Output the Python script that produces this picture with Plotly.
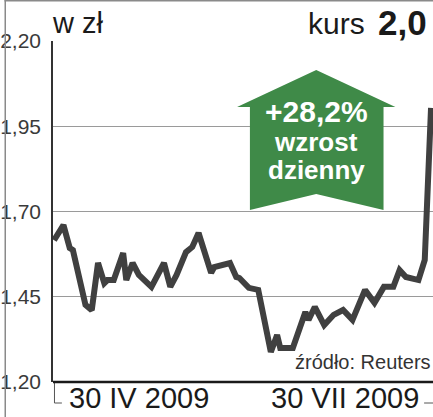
import plotly.graph_objects as go

# ── Data ──────────────────────────────────────────────────────────────────────
dates = [
    "2009-04-30", "2009-05-03", "2009-05-05", "2009-05-06", "2009-05-10",
    "2009-05-12", "2009-05-14", "2009-05-16", "2009-05-17", "2009-05-19",
    "2009-05-22", "2009-05-23", "2009-05-25", "2009-05-27", "2009-05-31",
    "2009-06-04", "2009-06-06", "2009-06-08", "2009-06-11", "2009-06-13",
    "2009-06-15", "2009-06-19", "2009-06-20", "2009-06-25", "2009-06-27",
    "2009-06-28", "2009-07-01", "2009-07-04", "2009-07-08", "2009-07-10",
    "2009-07-11", "2009-07-15", "2009-07-19", "2009-07-20", "2009-07-22",
    "2009-07-25", "2009-07-28", "2009-07-31", "2009-08-03", "2009-08-07",
    "2009-08-10", "2009-08-13", "2009-08-16", "2009-08-18", "2009-08-20",
    "2009-08-24", "2009-08-26", "2009-08-28",
]
kurs = [
    1.616, 1.660, 1.593, 1.587, 1.426,
    1.411, 1.549, 1.490, 1.499, 1.499,
    1.578, 1.499, 1.549, 1.514, 1.479,
    1.549, 1.479, 1.514, 1.581, 1.596,
    1.637, 1.520, 1.537, 1.549, 1.508,
    1.505, 1.476, 1.470, 1.288, 1.338,
    1.300, 1.300, 1.405, 1.382, 1.420,
    1.367, 1.397, 1.411, 1.382, 1.470,
    1.432, 1.479, 1.479, 1.528, 1.508,
    1.499, 1.558, 2.004,
]
y_ticks = [1.20, 1.45, 1.70, 1.95, 2.20]
y_labels = ["1,20", "1,45", "1,70", "1,95", "2,20"]

# ── Geometry helpers (pixel -> paper) ─────────────────────────────────────────
W, H = 433, 417
L, R, T, B = 49, 0, 41, 35
PW, PH = W - L - R, H - T - B


def px(x):
    return (x - L) / PW


def py(y):
    return (H - B - y) / PH


FONT = "Liberation Sans, Arial, sans-serif"
GREEN = "#3f8a48"

fig = go.Figure()
fig.add_trace(go.Scatter(
    x=dates, y=kurs, mode="lines",
    line=dict(color="#404040", width=6, shape="linear"),
    hoverinfo="skip", showlegend=False, cliponaxis=False,
))

# arrow callout
arrow = [(315, 70), (395, 107), (383, 107), (383, 210), (315, 194),
         (248, 210), (248, 107), (235, 107)]
path = "M " + " L ".join(f"{px(a):.4f},{py(b):.4f}" for a, b in arrow) + " Z"
shapes = [
    dict(type="path", xref="paper", yref="paper", path=path,
         fillcolor=GREEN, line=dict(width=0), layer="above"),
    # outer frame left/top
    dict(type="line", xref="paper", yref="paper", x0=px(0.75), x1=px(0.75),
         y0=py(0), y1=py(H), line=dict(color="#8a8a8a", width=1.5)),
    dict(type="line", xref="paper", yref="paper", x0=px(0), x1=px(W),
         y0=py(0.75), y1=py(0.75), line=dict(color="#8a8a8a", width=1.5)),
    # period brackets under axis
    dict(type="path", xref="paper", yref="paper",
         path=f"M {px(50.5):.4f},{py(383):.4f} L {px(50.5):.4f},{py(403):.4f} "
              f"L {px(58):.4f},{py(403):.4f}",
         line=dict(color="#555", width=1)),
    dict(type="line", xref="paper", yref="paper", x0=px(424), x1=px(433),
         y0=py(403), y1=py(403), line=dict(color="#555", width=1)),
    # baseline
    dict(type="line", xref="paper", yref="paper", x0=0, x1=1, y0=0, y1=0,
         line=dict(color="#1a1a1a", width=2.5), layer="above"),
]

annotations = [
    dict(text="w zł", x=px(46), y=py(23), xanchor="left", yanchor="middle",
         font=dict(family=FONT, size=29, color="#1a1a1a")),
    dict(text="kurs", x=px(366), y=py(23), xanchor="right",
         yanchor="middle", font=dict(family=FONT, size=30, color="#1a1a1a")),
    dict(text="<b>2,0</b>", x=px(429), y=py(22), xanchor="right",
         yanchor="middle", font=dict(family=FONT, size=35, color="#1a1a1a")),
    dict(text="<b>+28,2%</b>", x=px(315), y=py(111), xanchor="center",
         yanchor="middle", font=dict(family=FONT, size=30, color="white")),
    dict(text="<b>wzrost</b>", x=px(315), y=py(142), xanchor="center",
         yanchor="middle", font=dict(family=FONT, size=26, color="white")),
    dict(text="<b>dzienny</b>", x=px(315), y=py(170), xanchor="center",
         yanchor="middle", font=dict(family=FONT, size=26, color="white")),
    dict(text="źródło: Reuters", x=px(433), y=py(362), xanchor="right",
         yanchor="middle", font=dict(family=FONT, size=20, color="#333")),
    dict(text="30 IV 2009", x=px(136), y=py(398), xanchor="center",
         yanchor="middle", font=dict(family=FONT, size=29, color="#1a1a1a")),
    dict(text="30 VII 2009", x=px(344), y=py(398), xanchor="center",
         yanchor="middle", font=dict(family=FONT, size=29, color="#1a1a1a")),
]
for a in annotations:
    a.update(xref="paper", yref="paper", showarrow=False)

fig.update_layout(
    width=W, height=H,
    margin=dict(l=L, r=R, t=T, b=B, pad=0),
    paper_bgcolor="white", plot_bgcolor="white",
    shapes=shapes, annotations=annotations,
    xaxis=dict(range=["2009-04-29 16:00", "2009-08-28 15:00"],
               showticklabels=False, showgrid=False, zeroline=False,
               ticks="", showline=False, fixedrange=True),
    yaxis=dict(range=[1.20, 2.20], tickvals=y_ticks, ticktext=y_labels,
               showgrid=True, gridcolor="#9a9a9a", gridwidth=1,
               zeroline=False, showline=True, linecolor="#333", linewidth=1.5,
               ticks="", ticklabelstandoff=6,
               tickfont=dict(family=FONT, size=21, color="#3a3a3a"),
               fixedrange=True),
)

fig.write_html(
    "out.html",
    config={"displayModeBar": False},
    post_script="document.body.style.margin='0';",
)
